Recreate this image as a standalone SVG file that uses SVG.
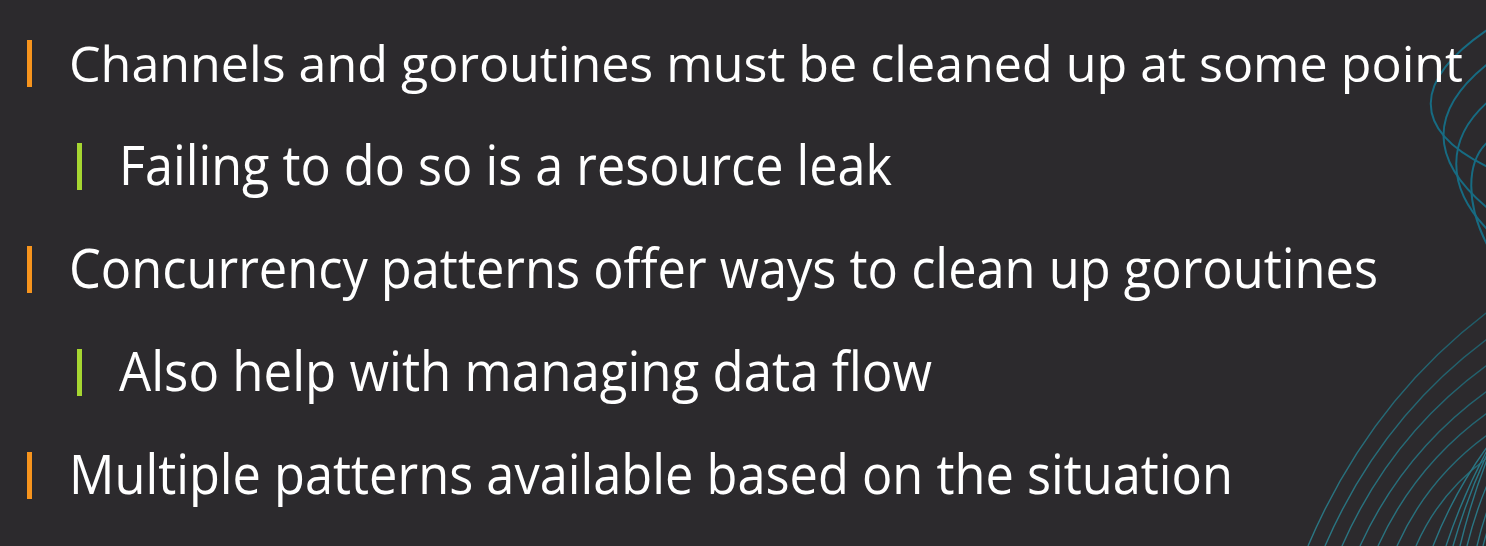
<svg xmlns="http://www.w3.org/2000/svg" width="1486" height="546" viewBox="0 0 1486 546">
<defs>
<style>
.t{font-family:"Open Sans","Noto Sans","Liberation Sans",sans-serif;font-size:54px;fill:#ffffff}
.b1{fill:#f7941d}
.b2{fill:#a6d631}
.top{fill:none;stroke:#176b82;stroke-width:2}
.arc{fill:none;stroke:url(#g);stroke-width:1.4}
.fan{fill:none;stroke:#2a7684;stroke-width:1.4}
</style>
<linearGradient id="g" gradientUnits="userSpaceOnUse" x1="1486" y1="300" x2="1330" y2="546">
<stop offset="0" stop-color="#1f5a66"/>
<stop offset="1" stop-color="#2a7784"/>
</linearGradient>
</defs>
<rect width="1486" height="546" fill="#2c2a2d"/>
<g id="decor-top">
<path class="top" d="M1490,28 C1412,80 1410,130 1490,168"/>
<path class="top" d="M1490,62 C1428,110 1428,160 1490,210"/>
<path class="top" d="M1490,100 C1445,138 1445,188 1490,232"/>
<path class="top" d="M1490,140 C1465,160 1465,205 1490,250"/>
</g>
<g id="decor-bottom">
<path class="arc" d="M1308,546 Q1370,400 1490,310"/>
<path class="arc" d="M1325,546 Q1381,417 1490,337"/>
<path class="arc" d="M1342,546 Q1392,433 1490,363"/>
<path class="arc" d="M1360,546 Q1404,450 1490,389"/>
<path class="arc" d="M1378,546 Q1416,463 1490,411"/>
<path class="arc" d="M1397,546 Q1428,477 1490,433"/>
<path class="arc" d="M1416,546 Q1440,491 1490,456"/>
<path class="fan" d="M1433,546 Q1455,490 1490,443"/>
<path class="fan" d="M1446,546 Q1464,492 1490,445"/>
<path class="fan" d="M1453,546 Q1468,494 1490,448"/>
<path class="fan" d="M1460,546 Q1472,497 1490,452"/>
<path class="fan" d="M1467,546 Q1476,510 1490,478"/>
<path class="fan" d="M1477,546 Q1482,524 1490,503"/>
<path class="fan" d="M1483,546 Q1486,534 1490,523"/>
</g>
<g id="bullet1">
<rect class="b1" x="27" y="40" width="5" height="47"/>
<text class="t" x="69" y="82" style="font-size:50px" textLength="1394" lengthAdjust="spacingAndGlyphs">Channels and goroutines must be cleaned up at some point</text>
</g>
<g id="bullet1-1">
<rect class="b2" x="77" y="143" width="5" height="47"/>
<text class="t" x="119" y="185" textLength="773" lengthAdjust="spacingAndGlyphs">Failing to do so is a resource leak</text>
</g>
<g id="bullet2">
<rect class="b1" x="27" y="246" width="5" height="47"/>
<text class="t" x="69" y="288" textLength="1309" lengthAdjust="spacingAndGlyphs">Concurrency patterns offer ways to clean up goroutines</text>
</g>
<g id="bullet2-1">
<rect class="b2" x="77" y="349" width="5" height="47"/>
<text class="t" x="119" y="391" textLength="813" lengthAdjust="spacingAndGlyphs">Also help with managing data flow</text>
</g>
<g id="bullet3">
<rect class="b1" x="27" y="452" width="5" height="47"/>
<text class="t" x="69" y="494" textLength="1164" lengthAdjust="spacingAndGlyphs">Multiple patterns available based on the situation</text>
</g>
</svg>
